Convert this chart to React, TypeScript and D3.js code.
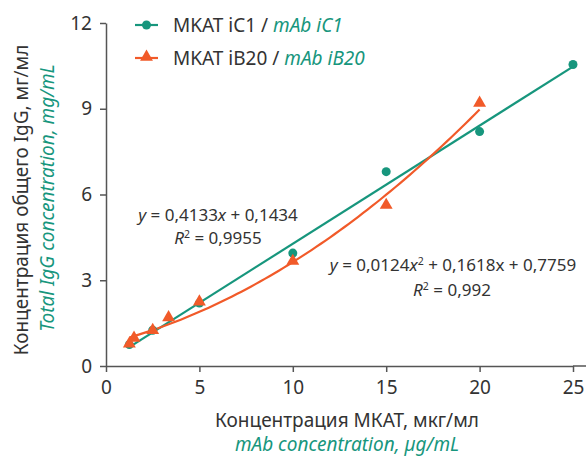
import { useEffect, useRef } from "react";
import * as d3 from "d3";

// tick labels
const xTicks = [0, 5, 10, 15, 20, 25];
const yTicks = [0, 3, 6, 9, 12];

// mAb iC1 (green circles)
const ic1Conc = [1.25, 2.5, 5, 10, 15, 20, 25];
const ic1Igg = [0.75, 1.25, 2.2, 3.95, 6.8, 8.2, 10.55];

// mAb iB20 (orange triangles)
const ib20Conc = [1.25, 1.5, 2.5, 3.35, 5, 10, 15, 20];
const ib20Igg = [0.78, 0.98, 1.25, 1.7, 2.25, 3.67, 5.63, 9.2];

// trend line coefficients, as printed on the chart
const ic1Fit = [0.4133, 0.1434]; // slope, intercept
const ib20Fit = [0.0124, 0.1618, 0.7759]; // x^2, x, const

const GREEN = "#17967d";
const ORANGE = "#f15a29";
const TEXT = "#333333";
const AXIS = "#555555";
const FONT = "'Noto Sans', 'Open Sans', sans-serif";

function App() {
  const ref = useRef<SVGSVGElement>(null);

  useEffect(() => {
    const svg = d3.select(ref.current);
    svg.selectAll("*").remove();

    const x = d3.scaleLinear().domain([0, 25]).range([106, 573]);
    const y = d3.scaleLinear().domain([0, 12]).range([366, 23]);

    // axes
    const xAxis = svg
      .append("g")
      .attr("transform", `translate(0,${y(0)})`)
      .call(
        d3.axisBottom(x).tickValues(xTicks).tickSize(6).tickSizeOuter(0).tickPadding(9)
      );
    const yAxis = svg
      .append("g")
      .attr("transform", `translate(${x(0)},0)`)
      .call(
        d3.axisLeft(y).tickValues(yTicks).tickSize(6).tickSizeOuter(0).tickPadding(8)
      );
    // x axis runs a little past the last tick
    xAxis
      .append("line")
      .attr("x1", x(25))
      .attr("x2", 586)
      .attr("stroke", AXIS)
      .attr("stroke-width", 1.5);

    [xAxis, yAxis].forEach((g) => {
      g.selectAll("path, line").attr("stroke", AXIS).attr("stroke-width", 1.5);
      g.selectAll("text")
        .attr("fill", TEXT)
        .style("font-family", FONT)
        .style("font-size", "19px");
    });

    // trend lines
    const line = d3
      .line<[number, number]>()
      .x((d) => x(d[0]))
      .y((d) => y(d[1]));

    const ic1Line: [number, number][] = [ic1Conc[0], ic1Conc[ic1Conc.length - 1]].map(
      (c) => [c, ic1Fit[0] * c + ic1Fit[1]]
    );
    svg
      .append("path")
      .attr("d", line(ic1Line))
      .attr("fill", "none")
      .attr("stroke", GREEN)
      .attr("stroke-width", 2.2);

    const ib20Line: [number, number][] = d3
      .range(ib20Conc[0], ib20Conc[ib20Conc.length - 1] + 0.001, 0.25)
      .map((c) => [c, ib20Fit[0] * c * c + ib20Fit[1] * c + ib20Fit[2]]);
    svg
      .append("path")
      .attr("d", line(ib20Line))
      .attr("fill", "none")
      .attr("stroke", ORANGE)
      .attr("stroke-width", 2.2);

    // markers
    svg
      .append("g")
      .selectAll("circle")
      .data(ic1Conc.map((c, i) => [c, ic1Igg[i]]))
      .join("circle")
      .attr("cx", (d) => x(d[0]))
      .attr("cy", (d) => y(d[1]))
      .attr("r", 4.5)
      .attr("fill", GREEN);

    const tri = d3.symbol().type(d3.symbolTriangle).size(72);
    svg
      .append("g")
      .selectAll("path")
      .data(ib20Conc.map((c, i) => [c, ib20Igg[i]]))
      .join("path")
      .attr("d", tri)
      .attr("transform", (d) => `translate(${x(d[0])},${y(d[1])})`)
      .attr("fill", ORANGE);

    // legend
    const legend = svg.append("g").style("font-family", FONT).style("font-size", "19px");
    const items = [
      { ru: "MKAT iC1 / ", en: "mAb iC1", color: GREEN, mark: "circle" },
      { ru: "MKAT iB20 / ", en: "mAb iB20", color: ORANGE, mark: "triangle" },
    ];
    items.forEach((it, i) => {
      const ly = 25 + i * 33;
      legend
        .append("line")
        .attr("x1", 135)
        .attr("x2", 158)
        .attr("y1", ly)
        .attr("y2", ly)
        .attr("stroke", it.color)
        .attr("stroke-width", 2.2);
      if (it.mark === "circle") {
        legend.append("circle").attr("cx", 146.5).attr("cy", ly).attr("r", 4.5).attr("fill", it.color);
      } else {
        legend
          .append("path")
          .attr("d", tri)
          .attr("transform", `translate(146.5,${ly - 1})`)
          .attr("fill", it.color);
      }
      const t = legend.append("text").attr("x", 173).attr("y", ly + 7).attr("fill", TEXT);
      t.append("tspan").text(it.ru);
      t.append("tspan").attr("fill", GREEN).style("font-style", "italic").text(it.en);
    });

    // equations
    const eq = svg
      .append("g")
      .style("font-family", FONT)
      .style("font-size", "17px")
      .attr("fill", TEXT)
      .attr("text-anchor", "middle");

    const eq1 = eq.append("text").attr("x", 218).attr("y", 221);
    eq1.append("tspan").style("font-style", "italic").text("y");
    eq1.append("tspan").text(" = 0,4133");
    eq1.append("tspan").style("font-style", "italic").text("x");
    eq1.append("tspan").text(" + 0,1434");
    const r1 = eq.append("text").attr("x", 218).attr("y", 244);
    r1.append("tspan").style("font-style", "italic").text("R");
    r1.append("tspan").attr("dy", -6).style("font-size", "10.5px").text("2");
    r1.append("tspan").attr("dy", 6).text(" = 0,9955");

    const eq2 = eq.append("text").attr("x", 453).attr("y", 271);
    eq2.append("tspan").style("font-style", "italic").text("y");
    eq2.append("tspan").text(" = 0,0124");
    eq2.append("tspan").style("font-style", "italic").text("x");
    eq2.append("tspan").attr("dy", -6).style("font-size", "10.5px").text("2");
    eq2.append("tspan").attr("dy", 6).text(" + 0,1618x + 0,7759");
    const r2 = eq.append("text").attr("x", 452).attr("y", 296);
    r2.append("tspan").style("font-style", "italic").text("R");
    r2.append("tspan").attr("dy", -6).style("font-size", "10.5px").text("2");
    r2.append("tspan").attr("dy", 6).text(" = 0,992");

    // axis titles
    const titles = svg
      .append("g")
      .style("font-family", FONT)
      .style("font-size", "19px")
      .attr("text-anchor", "middle");
    titles
      .append("text")
      .attr("x", 347)
      .attr("y", 427)
      .attr("fill", TEXT)
      .text("Концентрация МКАТ, мкг/мл");
    titles
      .append("text")
      .attr("x", 347)
      .attr("y", 451)
      .attr("fill", GREEN)
      .style("font-style", "italic")
      .text("mAb concentration, µg/mL");
    titles
      .append("text")
      .attr("transform", "translate(28,200) rotate(-90)")
      .attr("fill", TEXT)
      .text("Концентрация общего IgG, мг/мл");
    titles
      .append("text")
      .attr("transform", "translate(54,198) rotate(-90)")
      .attr("fill", GREEN)
      .style("font-style", "italic")
      .text("Total IgG concentration, mg/mL");
  }, []);

  return (
    <svg
      ref={ref}
      width={588}
      height={457}
      style={{ position: "absolute", left: 0, top: 0, background: "#fff" }}
    />
  );
}

export default App;
